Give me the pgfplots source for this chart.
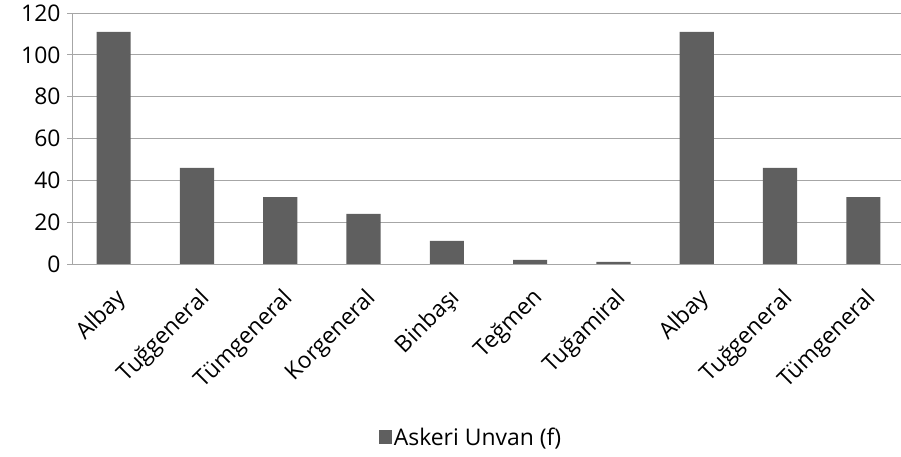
\documentclass[border=0pt]{standalone}
\usepackage{pgfplots}
\pgfplotsset{compat=1.18}
\usepackage{fontspec}
\setmainfont{Open Sans}
\definecolor{barc}{HTML}{5F5F5F}
\definecolor{gridc}{HTML}{A6A6A6}
\begin{document}
\begin{tikzpicture}[x=1bp,y=1bp]
\useasboundingbox (0,0) rectangle (901,457);
\begin{axis}[
  at={(72bp,193bp)}, anchor=south west,
  scale only axis, width=833bp, height=251bp,
  xmin=-0.5, xmax=9.5, ymin=0, ymax=120,
  ytick={0,20,...,120},
  ymajorgrids, grid style={gridc, line width=0.8pt},
  axis line style={gridc, line width=0.8pt},
  axis x line*=bottom, axis y line*=left,
  xtick={0,...,9},
  xticklabels={Albay,Tuğgeneral,Tümgeneral,Korgeneral,Binbaşı,Teğmen,Tuğamiral,Albay,Tuğgeneral,Tümgeneral},
  extra x ticks={0.5,1.5,...,8.5},
  extra x tick labels={},
  extra x tick style={major tick length=5bp, tick style={gridc, line width=0.8pt}, grid=none},
  x tick label style={xshift=1bp, yshift=-16bp, rotate=45, anchor=north east, inner sep=1bp},
  major x tick style={draw=none},
  major y tick style={gridc, line width=0.8pt},
  tick align=outside, major tick length=5bp,
  ticklabel style={font=\fontsize{23}{23}\selectfont},
  /pgf/number format/assume math mode=true,
  yticklabel style={xshift=-3bp},
  clip=false,
  legend style={at={(0.479,-0.69)}, anchor=center, draw=none, font=\fontsize{23}{23}\selectfont, legend image code/.code={\fill[barc] (-5bp,-7bp) rectangle (8bp,7bp);}},
]
\addplot[ybar, bar width=0.41, fill=barc, draw=none] coordinates {
(0,111) (1,46) (2,32) (3,24) (4,11) (5,2) (6,1) (7,111) (8,46) (9,32)};
\addlegendentry{Askeri Unvan (f)}
\end{axis}
\end{tikzpicture}
\end{document}
